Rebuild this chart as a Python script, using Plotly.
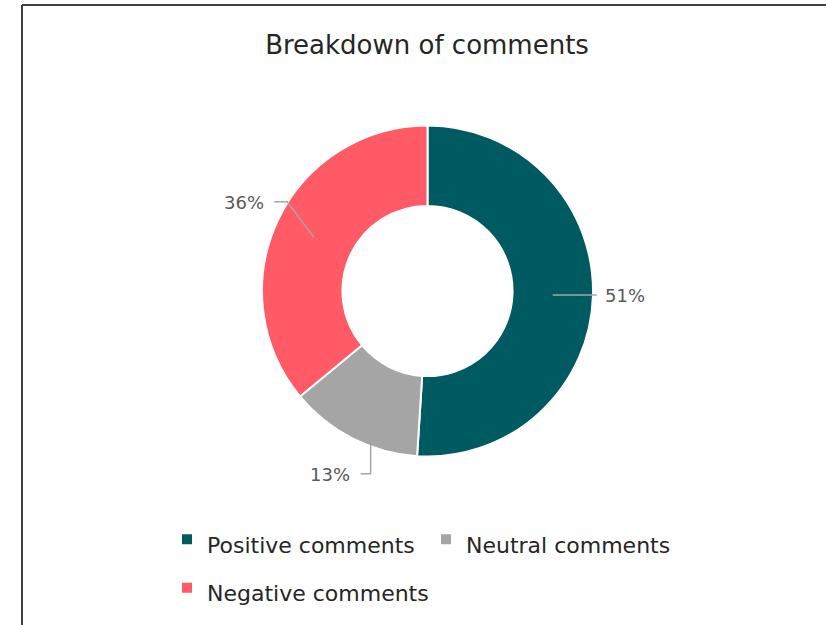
import math
import plotly.graph_objects as go

# ---- data ----
categories = ["Positive comments", "Neutral comments", "Negative comments"]
values = [51, 13, 36]
label_texts = ["51%", "13%", "36%"]
title_text = "Breakdown of comments"

# ---- style ----
colors = ["#005A61", "#A5A5A5", "#FF5A66"]
W, H = 826, 625
MR = 126                 # right margin -> plot-area width controls legend wrapping
PW = W - MR
CX, CY, R = 427.5, 291.0, 165.5      # donut centre / outer radius in px
HOLE = 0.514
FONT = "DejaVu Sans"
LINE_COL = "#A6A6A6"
LABEL_COL = "#595959"
LEGEND_TEXT_SIZE = 22
LEGEND_ROW_FONT = 35     # sets legend row height
# leader-line elbows: (dx, dy) from slice mid-point, then horizontal run, text side, gap
leader_style = [
    {"elbow": (44, 0), "run": 0, "side": "left", "gap": 6},
    {"elbow": (0, 71), "run": -10, "side": "right", "gap": 9},
    {"elbow": (-27, -36), "run": -13, "side": "right", "gap": 8},
]

def px_to_paper(x, y):
    return x / PW, 1 - y / H

legend_labels = [f'<span style="font-size:{LEGEND_TEXT_SIZE}px">{c}</span>' for c in categories]

fig = go.Figure()
fig.add_trace(go.Pie(
    labels=legend_labels,
    values=values,
    sort=False,
    direction="clockwise",
    rotation=0,
    hole=HOLE,
    marker=dict(colors=colors, line=dict(color="white", width=2)),
    textinfo="none",
    hovertemplate="%{label}<br>%{percent}<extra></extra>",
    domain=dict(x=[(CX - R) / PW, (CX + R) / PW],
                y=[1 - (CY + R) / H, 1 - (CY - R) / H]),
))

# leader lines & labels computed from slice mid angles
total = sum(values)
cum = 0.0
r_mid = R * (1 + HOLE) / 2
shapes = []
annotations = []
for v, txt, st in zip(values, label_texts, leader_style):
    mid = (cum + v / 2) / total * 2 * math.pi
    cum += v
    x0 = CX + r_mid * math.sin(mid)
    y0 = CY - r_mid * math.cos(mid)
    x1 = x0 + st["elbow"][0]
    y1 = y0 + st["elbow"][1]
    x2 = x1 + st["run"]
    pts = [(x0, y0), (x1, y1), (x2, y1)]
    path = ""
    for i, (a, b) in enumerate(pts):
        pa, pb = px_to_paper(a, b)
        path += ("M" if i == 0 else " L") + f"{pa:.5f},{pb:.5f}"
    shapes.append(dict(type="path", xref="paper", yref="paper", path=path,
                       line=dict(color=LINE_COL, width=1.5)))
    if st["side"] == "left":
        ax, xa = x2 + st["gap"], "left"
    else:
        ax, xa = x2 - st["gap"], "right"
    px_, py_ = px_to_paper(ax, y1 + 1)
    annotations.append(dict(x=px_, y=py_, xref="paper", yref="paper",
                            text=txt, showarrow=False, xanchor=xa, yanchor="middle",
                            font=dict(family=FONT, size=18, color=LABEL_COL)))

# chart border (left and top edges visible)
bx, by = px_to_paper(22, 5)
ex, _ = px_to_paper(W + 10, 0)
shapes.append(dict(type="line", xref="paper", yref="paper", x0=bx, x1=bx, y0=by, y1=-0.05,
                   line=dict(color="#404040", width=2)))
shapes.append(dict(type="line", xref="paper", yref="paper", x0=bx, x1=ex, y0=by, y1=by,
                   line=dict(color="#404040", width=2)))

lx, ly = px_to_paper(167, 510)
fig.update_layout(
    width=W, height=H,
    margin=dict(l=0, r=MR, t=0, b=0, autoexpand=False),
    paper_bgcolor="white",
    plot_bgcolor="white",
    title=dict(text=title_text, x=0.517, xanchor="center", y=1 - 45 / H, yanchor="middle",
               font=dict(family=FONT, size=26, color="#262626")),
    showlegend=True,
    legend=dict(orientation="h", x=lx, xanchor="left", y=ly, yanchor="top",
                entrywidth=214,
                font=dict(family=FONT, size=LEGEND_ROW_FONT, color="#262626"),
                traceorder="normal"),
    shapes=shapes,
    annotations=annotations,
)

fig.write_html("out.html", post_script="document.body.style.margin='0px';",
               config={"displayModeBar": False})
